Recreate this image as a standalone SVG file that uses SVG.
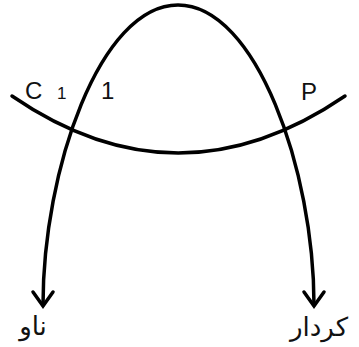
<svg xmlns="http://www.w3.org/2000/svg" width="359" height="347" viewBox="0 0 359 347">
<defs>
<style>
.ln{fill:none;stroke:#000;stroke-width:3.5;stroke-linecap:round}
.lbl{font-family:"Liberation Sans",Arial,sans-serif;fill:#111}
.fa{font-family:"DejaVu Sans","Noto Sans",sans-serif;fill:#111;font-size:26px}
</style>
</defs>
<g id="connectors">
<path class="ln" d="M12 96 Q178 210 345 96"/>
<path class="ln" d="M43 305 C43 170 100 5 178 5 C256 5 314 170 314 305"/>
<path d="M33 292 L43 306 L53 292" class="ln" stroke-linejoin="miter"/>
<path d="M304 292 L314 306 L324 292" class="ln" stroke-linejoin="miter"/>
</g>
<g id="labelC"><text class="lbl" x="25" y="99" font-size="24">C</text><text class="lbl" x="57" y="99" font-size="17">1</text></g>
<g id="label1"><text class="lbl" x="101" y="99" font-size="24">1</text></g>
<g id="labelP"><text class="lbl" x="301" y="100" font-size="24">P</text></g>
<g id="nav"><text class="fa" x="33" y="335" text-anchor="middle" direction="rtl">ناو</text></g>
<g id="kerdar"><text class="fa" x="319" y="336" text-anchor="middle" direction="rtl">کردار</text></g>
</svg>
